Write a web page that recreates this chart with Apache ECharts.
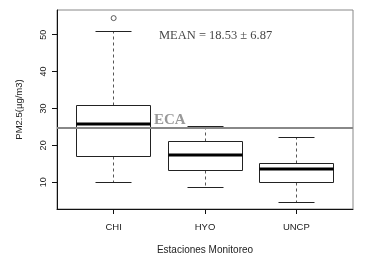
<!DOCTYPE html>
<html>
<head>
<meta charset="utf-8">
<script src="https://cdn.jsdelivr.net/npm/echarts@6/dist/echarts.min.js"></script>
<style>
html,body{margin:0;padding:0;background:#fff;}
#chart{width:366px;height:264px;}
</style>
</head>
<body>
<div id="chart"></div>
<script>
// ---- data ----
const categories = ['CHI', 'HYO', 'UNCP'];
const lowerWhisker = [10.0, 8.7, 4.6];
const q1 = [17.05, 13.25, 9.8];
const median = [25.9, 17.5, 13.5];
const q3 = [30.9, 21.0, 15.15];
const upperWhisker = [50.9, 25.2, 22.2];
const outlierCategory = ['CHI'];
const outlierValue = [54.5];
const yTicks = [10, 20, 30, 40, 50];
const ecaValue = 24.7;
const meanText = 'MEAN = 18.53 \u00b1 6.87';
const ecaText = 'ECA';
const yName = 'PM2.5(\u00b5g/m3)';
const xName = 'Estaciones Monitoreo';

// axis extents (R-style padding)
const xMin = 0.38, xMax = 3.62;
const yMin = 2.75, yMax = 56.7;
const boxWidth = 0.8;

const boxData = categories.map((c, i) => [i + 1, lowerWhisker[i], q1[i], median[i], q3[i], upperWhisker[i]]);
const outlierData = outlierCategory.map((c, i) => [categories.indexOf(c) + 1, outlierValue[i]]);

function crisp(v) { return Math.round(v - 0.5) + 0.5; }

function renderItem(params, api) {
  const x = api.value(0);
  const c = v => api.coord([x, v]);
  const w = api.size([boxWidth, 0])[0];
  const cx = crisp(c(0)[0]);
  const yLw = crisp(c(api.value(1))[1]);
  const yQ1 = crisp(c(api.value(2))[1]);
  const yMed = Math.round(c(api.value(3))[1]);
  const yQ3 = crisp(c(api.value(4))[1]);
  const yUw = crisp(c(api.value(5))[1]);
  const left = crisp(cx - w / 2), right = crisp(cx + w / 2);
  const capL = crisp(cx - w / 4), capR = crisp(cx + w / 4);
  const dash = { stroke: '#555', lineWidth: 1, lineDash: [3, 3] };
  const solid = { stroke: '#222', lineWidth: 1 };
  return {
    type: 'group',
    children: [
      { type: 'line', shape: { x1: cx, y1: yQ1, x2: cx, y2: yLw }, style: dash },
      { type: 'line', shape: { x1: cx, y1: yQ3, x2: cx, y2: yUw }, style: dash },
      { type: 'line', shape: { x1: capL, y1: yLw, x2: capR, y2: yLw }, style: solid },
      { type: 'line', shape: { x1: capL, y1: yUw, x2: capR, y2: yUw }, style: solid },
      { type: 'rect', shape: { x: left, y: yQ3, width: right - left, height: yQ1 - yQ3 }, style: { fill: '#fff', stroke: '#222', lineWidth: 1 } },
      { type: 'line', shape: { x1: left, y1: yMed, x2: right, y2: yMed }, style: { stroke: '#000', lineWidth: 3 } }
    ]
  };
}

const chart = echarts.init(document.getElementById('chart'), null, { renderer: 'canvas' });
chart.setOption({
  animation: false,
  backgroundColor: '#fff',
  grid: { left: 57, right: 13, top: 10, bottom: 55, show: true, borderColor: '#888', borderWidth: 1, backgroundColor: 'transparent' },
  xAxis: {
    type: 'value', min: xMin, max: xMax,
    name: xName, nameLocation: 'middle', nameGap: 36,
    nameTextStyle: { fontFamily: 'Liberation Sans', fontSize: 10, color: '#222' },
    axisLine: { show: true, onZero: false, lineStyle: { color: '#111', width: 1 } },
    axisTick: { show: true, customValues: [1, 2, 3], length: 5, lineStyle: { color: '#111' } },
    axisLabel: { customValues: [1, 2, 3], formatter: v => categories[Math.round(v) - 1], margin: 13,
      fontFamily: 'Liberation Sans', fontSize: 9.5, color: '#222' },
    splitLine: { show: false }
  },
  yAxis: {
    type: 'value', min: yMin, max: yMax,
    name: yName, nameLocation: 'middle', nameGap: 33, nameRotate: 90,
    nameTextStyle: { fontFamily: 'Liberation Sans', fontSize: 9.5, color: '#222' },
    axisLine: { show: true, lineStyle: { color: '#111', width: 1 } },
    axisTick: { show: true, customValues: yTicks, length: 5, lineStyle: { color: '#111' } },
    axisLabel: { customValues: yTicks, rotate: 90, margin: 9,
      fontFamily: 'Liberation Sans', fontSize: 9, color: '#222' },
    splitLine: { show: false }
  },
  series: [
    {
      type: 'custom', renderItem: renderItem, data: boxData,
      encode: { x: 0, y: [1, 2, 3, 4, 5] }, silent: true, z: 2
    },
    {
      type: 'scatter', data: outlierData, symbol: 'circle', symbolSize: 5,
      itemStyle: { color: '#fff', borderColor: '#333', borderWidth: 1 }, silent: true, z: 3
    },
    {
      type: 'scatter', data: [], silent: true,
      markLine: {
        silent: true, symbol: 'none', animation: false,
        label: { show: false },
        lineStyle: { color: '#888', width: 2, type: 'solid' },
        data: [{ yAxis: ecaValue }]
      },
      z: 4
    },
    {
      type: 'scatter', symbolSize: 0, silent: true, z: 5,
      data: [[1.496, 49.7], [1.441, 26.9]],
      label: {
        show: true, position: 'right', distance: 0,
        formatter: p => p.dataIndex === 0 ? meanText : ecaText,
        rich: {}
      },
      labelLayout: null,
      itemStyle: { color: 'transparent' }
    }
  ]
});
// per-label styling
chart.setOption({
  series: [{}, {}, {}, {
    data: [
      { value: [1.496, 49.7], label: { fontFamily: 'Liberation Serif', fontSize: 12.5, color: '#111' } },
      { value: [1.441, 26.9], label: { fontFamily: 'Liberation Serif', fontSize: 15, fontWeight: 'bold', color: '#808080' } }
    ]
  }]
});
</script>
</body>
</html>
